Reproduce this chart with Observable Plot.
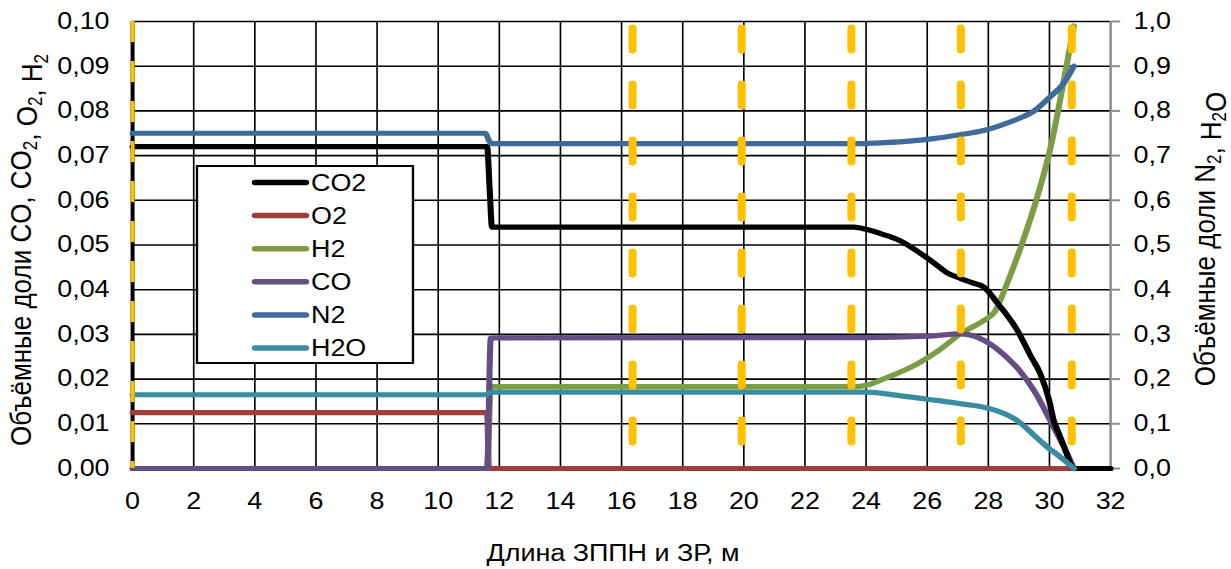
<!DOCTYPE html>
<html>
<head>
<meta charset="utf-8">
<script src="https://cdn.jsdelivr.net/npm/d3@7"></script>
<script src="https://cdn.jsdelivr.net/npm/@observablehq/plot@0.6"></script>
<style>
  body { margin: 0; background: #fff; }
  #chart { width: 1231px; height: 569px; }
</style>
</head>
<body>
<div id="chart"></div>
<script>
// Gas composition along the drying / preheating zones (left axis: CO2, O2, H2, CO; right axis: N2, H2O)

const xTicks = [0, 2, 4, 6, 8, 10, 12, 14, 16, 18, 20, 22, 24, 26, 28, 30, 32];
const leftTicks = [0, 0.01, 0.02, 0.03, 0.04, 0.05, 0.06, 0.07, 0.08, 0.09, 0.10];
const rightTicks = [0, 0.1, 0.2, 0.3, 0.4, 0.5, 0.6, 0.7, 0.8, 0.9, 1.0];
const leftMax = 0.1;
const rightMax = 1.0;

// zone boundaries, m
const zoneX = [16.36, 19.93, 23.52, 27.1, 30.73];
const startX = [0];

const co2X = [0, 11.6, 11.68, 11.76, 23.6, 24.0, 24.5, 25.1, 25.7, 26.2, 26.6, 27.1, 27.5, 27.85, 28.3, 28.95, 29.4, 29.7, 30.0, 30.14, 30.3, 30.5, 30.8, 32];
const co2Y = [0.072, 0.072, 0.063, 0.054, 0.054, 0.0535, 0.0525, 0.051, 0.0485, 0.0461, 0.044, 0.0425, 0.0415, 0.0406, 0.037, 0.0309, 0.025, 0.0212, 0.015, 0.0107, 0.008, 0.0045, 0, 0];

const o2X = [0, 11.6, 11.66, 30.8];
const o2Y = [0.0125, 0.0125, 0, 0];

const h2X = [0, 11.6, 11.72, 23.6, 24.0, 24.6, 25.2, 25.7, 26.4, 27.1, 27.85, 28.2, 28.65, 29.06, 29.5, 30.04, 30.47, 30.8];
const h2Y = [0, 0, 0.0183, 0.0183, 0.0186, 0.0201, 0.0218, 0.0235, 0.0265, 0.0302, 0.0331, 0.035, 0.042, 0.0495, 0.0585, 0.0719, 0.0868, 0.099];

const coX = [0, 11.6, 11.72, 24, 26, 27.1, 27.5, 27.85, 28.2, 28.6, 29.0, 29.5, 30.14, 30.5, 30.8];
const coY = [0, 0, 0.0292, 0.0293, 0.0296, 0.0301, 0.0297, 0.0287, 0.0272, 0.0249, 0.0221, 0.0174, 0.0092, 0.0045, 0];

const n2X = [0, 11.55, 11.65, 11.75, 23.8, 24.6, 25.5, 26.2, 27.0, 27.85, 28.5, 29.0, 29.5, 30.0, 30.47, 30.8];
const n2Y = [0.75, 0.75, 0.735, 0.727, 0.727, 0.729, 0.733, 0.738, 0.746, 0.756, 0.77, 0.783, 0.80, 0.83, 0.862, 0.90];

const h2oX = [0, 11.55, 11.7, 11.8, 24.0, 25.1, 26.0, 26.8, 27.3, 27.85, 28.4, 28.95, 29.5, 29.93, 30.37, 30.8];
const h2oY = [0.165, 0.165, 0.17, 0.171, 0.171, 0.163, 0.155, 0.148, 0.143, 0.137, 0.126, 0.107, 0.074, 0.048, 0.025, 0];

const seriesNames = ["CO2", "O2", "H2", "CO", "N2", "H2O"];
const seriesColors = ["#000000", "#9E3D39", "#7C9C45", "#654E85", "#3E6A9C", "#3A8DA1"];

const series = [
  {name: "CO2", x: co2X, y: co2Y, axis: "left"},
  {name: "O2", x: o2X, y: o2Y, axis: "left"},
  {name: "H2", x: h2X, y: h2Y, axis: "left"},
  {name: "CO", x: coX, y: coY, axis: "left"},
  {name: "N2", x: n2X, y: n2Y, axis: "right"},
  {name: "H2O", x: h2oX, y: h2oY, axis: "right"}
];

// right-axis series are drawn on the left scale, rescaled by the axis ratio
const ratio = leftMax / rightMax;
const rows = series.flatMap(s => s.x.map((x, i) => ({
  name: s.name,
  x,
  y: s.axis === "right" ? s.y[i] * ratio : s.y[i]
})));

const colorOf = name => seriesColors[seriesNames.indexOf(name)];
const comma = (v, digits) => v.toFixed(digits).replace(".", ",");

// drawing order: O2, H2, CO, CO2 below the secondary-axis series
const drawOrder = ["O2", "H2", "CO", "CO2", "N2", "H2O"];

// The chart is laid out on a narrower canvas and widened to the page width,
// giving the broad, wide-set lettering of the original figure.
const pageW = 1231, pageH = 569;
const innerW = 1052;
const k = pageW / innerW;
const px = v => v / k;   // page pixels -> canvas units (horizontal)

const font = "'Liberation Sans', Arial, sans-serif";
const fontSize = 23;
const titleSize = 26;

const plot = Plot.plot({
  width: innerW,
  height: pageH,
  marginLeft: px(132),
  marginRight: px(121),
  marginTop: 21,
  marginBottom: 101,
  style: {fontFamily: font, fontSize: fontSize + "px", color: "#000", background: "#fff", overflow: "visible"},
  x: {domain: [0, 32]},
  y: {domain: [0, leftMax]},
  marks: [
    Plot.gridX(xTicks.filter(d => d > 0 && d < 32), {stroke: "#000", strokeOpacity: 1, strokeWidth: 1.4}),
    Plot.gridY(leftTicks, {stroke: "#000", strokeOpacity: 1, strokeWidth: 1.6}),
    Plot.ruleX([32], {stroke: "#8c8c8c", strokeWidth: px(2.5)}),
    Plot.ruleX(startX, {stroke: "#000", strokeWidth: px(4)}),
    Plot.axisX(xTicks, {tickSize: 0, tickPadding: 24, label: null, fill: "#000", fontSize}),
    Plot.axisY(leftTicks, {anchor: "left", tickSize: 0, tickPadding: px(23), label: null, fill: "#000", fontSize,
      tickFormat: d => comma(d, 2)}),
    Plot.axisY(rightTicks.map(v => v * ratio), {anchor: "right", tickSize: px(9), tickPadding: px(14), label: null,
      stroke: "#8c8c8c", strokeWidth: 2, fill: "#000", fontSize,
      tickFormat: d => comma(d / ratio, 1)}),
    ...drawOrder.map(name => Plot.line(rows.filter(r => r.name === name), {
      x: "x", y: "y", stroke: colorOf(name), strokeWidth: 5.2,
      curve: "monotone-x", strokeLinejoin: "round", strokeLinecap: "round"
    })),
    Plot.ruleX(startX, {stroke: "#FFC000", strokeWidth: px(4), strokeDasharray: "21,19"}),
    Plot.ruleX(zoneX, {stroke: "#FFC000", strokeWidth: px(8), strokeDasharray: "22,34",
      strokeDashoffset: -7, strokeLinecap: "round"})
  ]
});

plot.setAttribute("preserveAspectRatio", "none");
plot.setAttribute("width", pageW);
plot.style.width = pageW + "px";
plot.style.height = pageH + "px";
plot.style.maxWidth = "none";

document.getElementById("chart").appendChild(plot);

const svg = d3.select(plot);

// legend box inside the plot frame
const legend = svg.append("g").attr("font-family", font).attr("font-size", fontSize)
  .attr("text-anchor", "start");
legend.append("rect")
  .attr("x", px(197)).attr("y", 166).attr("width", px(216)).attr("height", 197)
  .attr("fill", "#fff").attr("stroke", "#000").attr("stroke-width", 2);
seriesNames.forEach((name, i) => {
  const cy = 182.5 + i * 33.1;
  legend.append("line")
    .attr("x1", px(255)).attr("x2", px(306)).attr("y1", cy).attr("y2", cy)
    .attr("stroke", seriesColors[i]).attr("stroke-width", 5.5).attr("stroke-linecap", "round");
  legend.append("text")
    .attr("x", px(311)).attr("y", cy).attr("dy", "0.35em")
    .attr("fill", "#000").text(name);
});

// axis titles with subscripts
function title(g, parts, size) {
  const subSize = Math.round(size * 0.66);
  const shift = Math.round(size * 0.18);
  const t = g.append("text").attr("text-anchor", "middle").attr("fill", "#000")
    .attr("font-family", font).attr("font-size", size).attr("dy", "0.35em");
  parts.forEach(([txt, sub]) => {
    if (sub) {
      t.append("tspan").attr("dy", shift).attr("font-size", subSize).text(txt);
      t.append("tspan").attr("dy", -shift).text("");
    } else {
      t.append("tspan").text(txt);
    }
  });
  return t;
}

title(svg.append("g").attr("transform", `translate(${px(20)},250) rotate(-90)`),
  [["Объёмные доли CO, CO"], ["2", true], [", O"], ["2", true], [", H"], ["2", true]], titleSize);

title(svg.append("g").attr("transform", `translate(${px(1204)},239) rotate(-90)`),
  [["Объёмные доли N"], ["2", true], [", H"], ["2", true], ["O"]], titleSize);

title(svg.append("g").attr("transform", `translate(${px(613)},553)`),
  [["Длина ЗППН и ЗР, м"]], fontSize);
</script>
</body>
</html>
